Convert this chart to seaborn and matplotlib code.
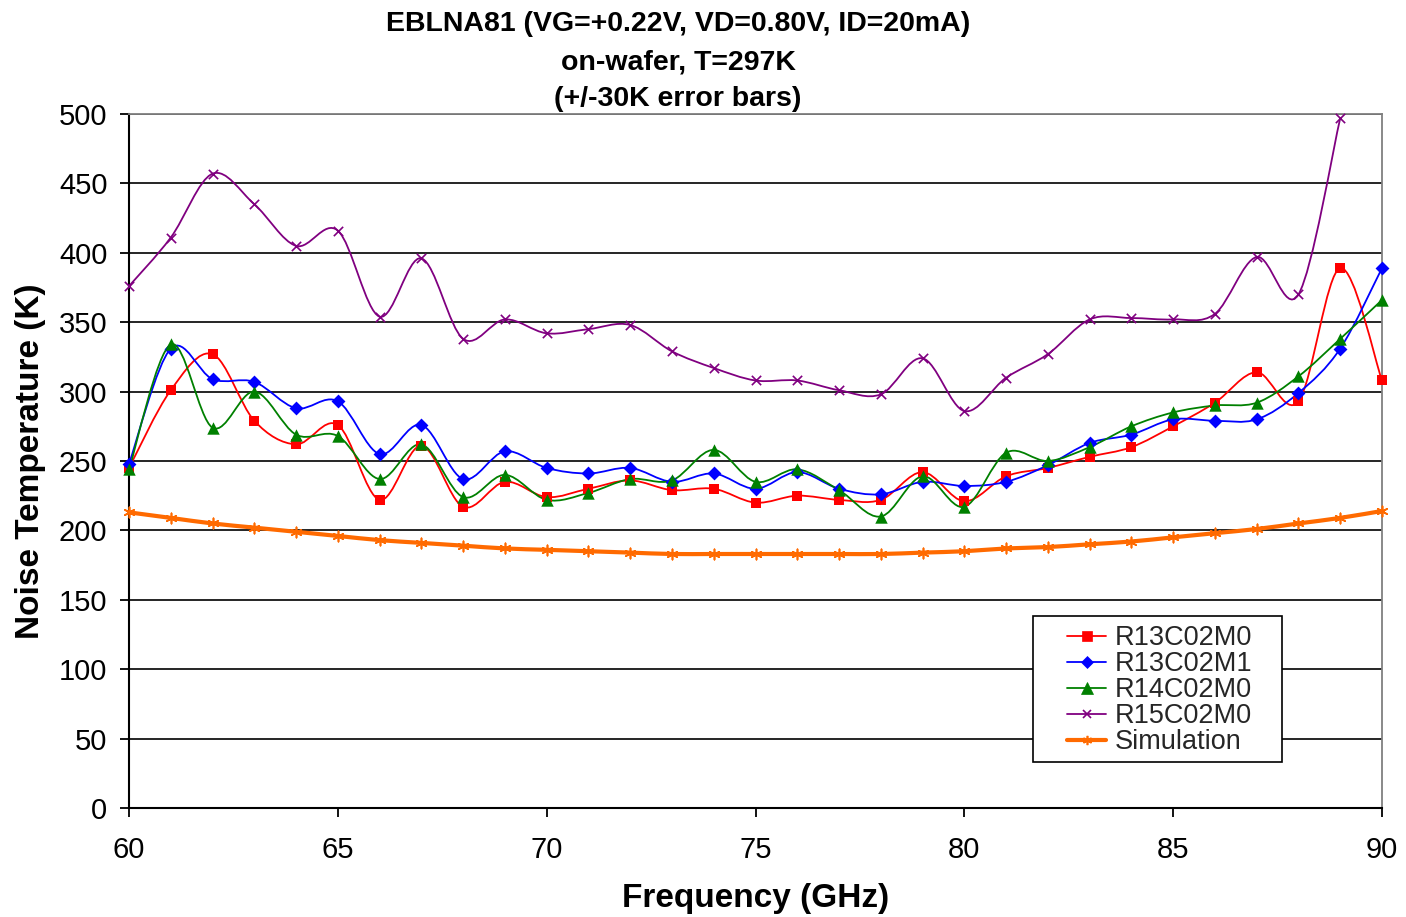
import matplotlib
matplotlib.use("Agg")
import numpy as np
import pandas as pd
import seaborn as sns
import matplotlib.pyplot as plt
from matplotlib.path import Path
from matplotlib.patches import PathPatch, Rectangle
from matplotlib.lines import Line2D

# ---------------- data ----------------
freq = list(range(60, 91))
freq_r15 = list(range(60, 90))

r13c02m0 = [245, 301, 327, 279, 262, 276, 222, 261, 217, 235,
            224, 230, 236, 229, 230, 220, 225, 222, 222, 242,
            221, 239, 245, 253, 260, 275, 292, 314, 293, 389, 308]
r13c02m1 = [248, 331, 309, 307, 288, 293, 255, 276, 237, 257,
            245, 241, 245, 235, 241, 230, 242, 230, 226, 235,
            232, 235, 247, 263, 269, 280, 279, 280, 299, 331, 389]
r14c02m0 = [244, 334, 274, 300, 269, 268, 237, 262, 224, 240,
            222, 227, 237, 236, 258, 235, 244, 229, 210, 239,
            217, 256, 250, 260, 275, 285, 290, 292, 311, 338, 366]
r15c02m0 = [376, 411, 457, 435, 405, 416, 354, 396, 338, 352,
            342, 345, 348, 329, 317, 308, 308, 301, 298, 324,
            286, 310, 327, 352, 353, 352, 356, 397, 370, 497]
simulation = [213, 209, 205, 202, 199, 196, 193, 191, 189, 187,
              186, 185, 184, 183, 183, 183, 183, 183, 183, 184,
              185, 187, 188, 190, 192, 195, 198, 201, 205, 209, 214]

series_names = ["R13C02M0", "R13C02M1", "R14C02M0", "R15C02M0", "Simulation"]
title_lines = ["EBLNA81 (VG=+0.22V, VD=0.80V, ID=20mA)",
               "on-wafer, T=297K",
               "(+/-30K error bars)"]
xticks = list(range(60, 91, 5))
yticks = list(range(0, 501, 50))

# ---------------- style ----------------
sns.set_theme(style="white")
plt.rcParams["font.family"] = ["Liberation Sans", "DejaVu Sans"]

W, H = 1406, 917
fig = plt.figure(figsize=(W / 100, H / 100), dpi=100)
ax = fig.add_axes([129 / W, 1 - 808 / H, (1382 - 129) / W, (808 - 114) / H])

styles = [
    dict(color="#FF0000", marker="s", s=55, lw=1.3, ms_lw=0.0),
    dict(color="#0000FF", marker="D", s=50, lw=1.3, ms_lw=0.0),
    dict(color="#008000", marker="^", s=80, lw=1.3, ms_lw=0.0),
    dict(color="#800080", marker="x", s=45, lw=1.3, ms_lw=1.2),
    dict(color="#FF6A00", marker=(6, 2, 0), s=55, lw=3.0, ms_lw=1.2),
]
data_x = [freq, freq, freq, freq_r15, freq]
data_y = [r13c02m0, r13c02m1, r14c02m0, r15c02m0, simulation]


def smooth_path(x, y):
    """Excel-like smoothed line: cubic Bezier through the data points."""
    P = np.column_stack([x, y]).astype(float)
    n = len(P)
    verts = [P[0]]
    codes = [Path.MOVETO]
    for i in range(n - 1):
        p0 = P[i - 1] if i > 0 else P[i]
        p1 = P[i]
        p2 = P[i + 1]
        p3 = P[i + 2] if i + 2 < n else P[i + 1]
        c1 = p1 + (p2 - p0) / 6.0
        c2 = p2 - (p3 - p1) / 6.0
        verts += [c1, c2, p2]
        codes += [Path.CURVE4] * 3
    return Path(verts, codes)


handles = []
for name, st, xs, ys in zip(series_names, styles, data_x, data_y):
    patch = PathPatch(smooth_path(xs, ys), facecolor="none", edgecolor=st["color"],
                      lw=st["lw"], zorder=3, clip_on=False, capstyle="round",
                      joinstyle="round")
    ax.add_patch(patch)
    df = pd.DataFrame({"f": xs, "t": ys})
    sns.scatterplot(data=df, x="f", y="t", ax=ax, marker=st["marker"], s=st["s"],
                    color=st["color"], edgecolor=st["color"],
                    linewidth=st["ms_lw"], zorder=4, clip_on=False, legend=False)
    handles.append(Line2D([0], [0], color=st["color"], lw=st["lw"] if name == "Simulation" else 1.3,
                          marker=st["marker"], markersize=np.sqrt(st["s"]) * 0.9,
                          markeredgewidth=st["ms_lw"] if st["ms_lw"] > 0 else 0.5,
                          markerfacecolor=st["color"], markeredgecolor=st["color"]))

ax.set_xlim(60, 90)
ax.set_ylim(0, 500)
ax.set_xticks(xticks)
ax.set_yticks(yticks)
ax.yaxis.grid(True, color="black", lw=1.2)
ax.xaxis.grid(False)
ax.set_axisbelow(True)

for side in ["left", "bottom"]:
    ax.spines[side].set_color("black")
    ax.spines[side].set_linewidth(1.5)
for side in ["top", "right"]:
    ax.spines[side].set_color("#808080")
    ax.spines[side].set_linewidth(1.3)

ax.tick_params(axis="both", which="major", direction="out", length=6.5, width=1.3,
               color="black", labelsize=21, labelcolor="black", bottom=True, left=True)
ax.tick_params(axis="x", pad=14)
ax.tick_params(axis="y", pad=9)

ax.set_xlabel("Frequency (GHz)", fontsize=24, fontweight="bold", color="black", labelpad=13)
ax.set_ylabel("Noise Temperature (K)", fontsize=24, fontweight="bold", color="black", labelpad=9)

for txt, ypx in zip(title_lines, [24, 62, 99]):
    fig.text(678 / W, 1 - ypx / H, txt, ha="center", va="center", fontsize=20.5,
             fontweight="bold", color="black")

# legend box
box = Rectangle(((1033 - 129) / 1253, (808 - 762) / 694), (1282 - 1033) / 1253,
                (762 - 616) / 694, transform=ax.transAxes, facecolor="white",
                edgecolor="black", lw=1.2, zorder=5)
ax.add_patch(box)
leg = ax.legend(handles, series_names, loc="center left",
                bbox_to_anchor=((1067 - 129) / 1253, (808 - 690) / 694),
                frameon=False, fontsize=19.5, handlelength=1.45, handletextpad=0.3,
                labelspacing=0.0, borderpad=0, borderaxespad=0)
leg.set_zorder(6)

fig.savefig("out.png", dpi=100)
